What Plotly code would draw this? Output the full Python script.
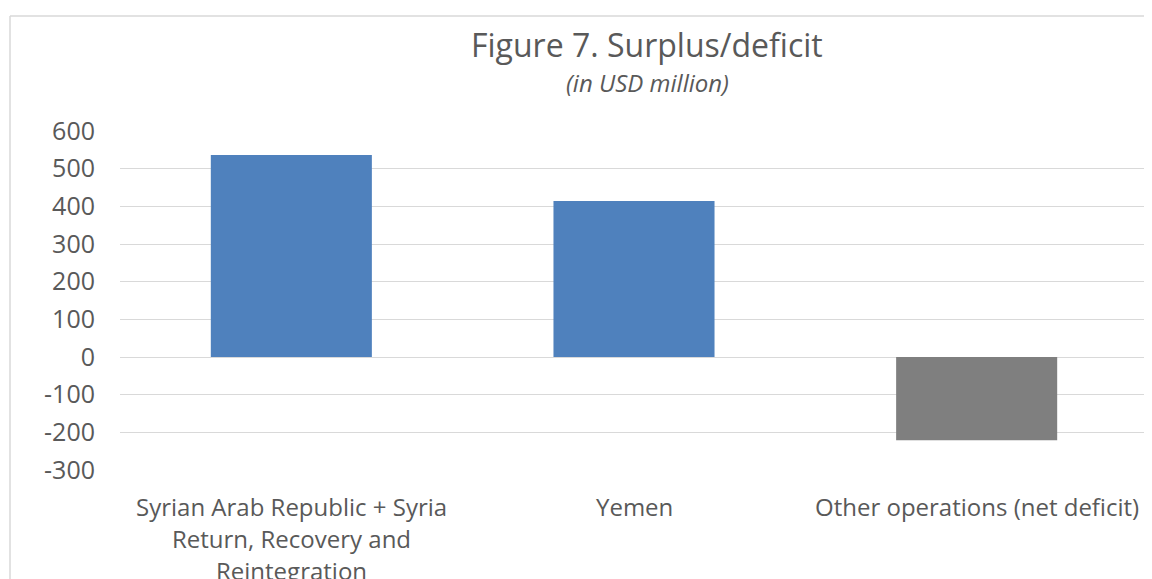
import plotly.graph_objects as go

# data (USD million)
categories = ["Syria", "Yemen", "Other"]
cat_labels = [
    ["Syrian Arab Republic + Syria", "Return, Recovery and", "Reintegration"],
    ["Yemen"],
    ["Other operations (net deficit)"],
]
values = [536, 414, -221]
bar_colors = ["#4F81BD", "#4F81BD", "#7F7F7F"]
y_ticks = [600, 500, 400, 300, 200, 100, 0, -100, -200, -300]
y_ticktext = ["600", "500", "400", "300", "200", "100", "0", "-100", "-200", "-300"]

FONT = "Open Sans"
TXT = "#595959"

# page body has an 8px margin, so the figure sits at (8, 8)
OFF = 8
W, H = 1152 - OFF, 579 - OFF
L, R, T = 120 - OFF, 4, 131 - OFF
B = H - (470 - OFF)
pw, ph = W - L - R, H - T - B


def px(x):
    return (x - OFF - L) / pw


def py(y):
    return (H - B - (y - OFF)) / ph


fig = go.Figure(go.Bar(x=categories, y=values, marker_color=bar_colors,
                       marker_line_width=0, width=0.47))

# category labels as annotations so line spacing can match the original
anns = []
for cat, lines in zip(categories, cat_labels):
    for i, line in enumerate(lines):
        anns.append(dict(x=cat, y=-300, xref="x", yref="y", text=line,
                         showarrow=False, yanchor="middle", yshift=-36 - 32 * i,
                         font=dict(family=FONT, size=24, color=TXT)))

anns.append(dict(x=px(647), y=py(44), xref="paper", yref="paper",
                 text="Figure 7. Surplus/deficit", showarrow=False,
                 xanchor="center", yanchor="middle",
                 font=dict(family=FONT, size=32, color=TXT)))
anns.append(dict(x=px(647), y=py(82), xref="paper", yref="paper",
                 text="<i>(in USD million)</i>", showarrow=False,
                 xanchor="center", yanchor="middle",
                 font=dict(family=FONT, size=24, color=TXT)))

# chart-area frame: only left and top edges fall inside the picture
border = dict(color="#D9D9D9", width=1.5)
frame = [
    dict(type="line", xref="paper", yref="paper", x0=px(10), x1=px(10),
         y0=py(650), y1=py(16), line=border, layer="below"),
    dict(type="line", xref="paper", yref="paper", x0=px(10), x1=px(1300),
         y0=py(16), y1=py(16), line=border, layer="below"),
]

fig.update_layout(
    width=W, height=H,
    margin=dict(l=L, r=R, t=T, b=B),
    paper_bgcolor="white", plot_bgcolor="white",
    showlegend=False,
    font=dict(family=FONT, size=24, color=TXT),
    bargap=0.53,
    annotations=anns,
    shapes=frame,
)
fig.update_xaxes(showticklabels=False, showgrid=False, zeroline=False, showline=False)
fig.update_yaxes(range=[-300, 600], tickvals=y_ticks, ticktext=y_ticktext,
                 showgrid=True, gridcolor="#D9D9D9", gridwidth=1,
                 zeroline=True, zerolinecolor="#D9D9D9", zerolinewidth=1,
                 ticks="", ticklabelstandoff=24, tickfont=dict(size=25, color=TXT))

fig.write_html("out.html")
